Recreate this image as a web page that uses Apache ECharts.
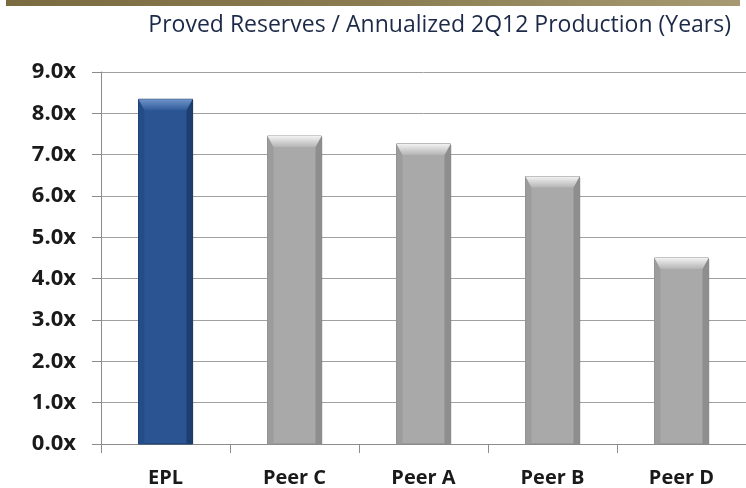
<!DOCTYPE html>
<html><head><meta charset="utf-8">
<script src="https://cdn.jsdelivr.net/npm/echarts@6/dist/echarts.min.js"></script>
<style>html,body{margin:0;padding:0;background:#fff}#c{width:746px;height:488px}</style>
</head><body><div id="c"></div>
<script>
var categories = ["EPL", "Peer C", "Peer A", "Peer B", "Peer D"];
var values = [8.34, 7.45, 7.26, 6.47, 4.50];
var yTicks = [0, 1, 2, 3, 4, 5, 6, 7, 8, 9];
var titleText = "Proved Reserves / Annualized 2Q12 Production (Years)";

var palettes = {
  blue: {body:'#2b5592', top0:'#6f93c8', top1:'#2f5b9a', left:'#244c86', right:'#1d3f70', border:'#1a3a66'},
  gray: {body:'#a9a9a9', top0:'#f2f2f2', top1:'#b4b4b4', left:'#9c9c9c', right:'#8e8e8e', border:'#8a8a8a'}
};

function renderBar(params, api){
  var i = api.value(0), v = api.value(1);
  var top = api.coord([i, v]);
  var base = api.coord([i, 0]);
  var w = 54, b = 11, s = 6;
  var x0 = top[0] - w/2, x1 = top[0] + w/2, y0 = top[1], y1 = base[1];
  var p = i === 0 ? palettes.blue : palettes.gray;
  return {type:'group', children:[
    {type:'rect', shape:{x:x0+1, y:y0+1, width:w, height:y1-y0-1}, style:{fill:'rgba(0,0,0,0.18)'}},
    {type:'rect', shape:{x:x0, y:y0, width:w, height:y1-y0}, style:{fill:p.body, stroke:p.border, lineWidth:1}},
    {type:'polygon', shape:{points:[[x0,y0],[x0+s,y0+b],[x0+s,y1],[x0,y1]]}, style:{fill:p.left}},
    {type:'polygon', shape:{points:[[x1,y0],[x1-s,y0+b],[x1-s,y1],[x1,y1]]}, style:{fill:p.right}},
    {type:'polygon', shape:{points:[[x0,y0],[x1,y0],[x1-s,y0+b],[x0+s,y0+b]]},
      style:{fill:new echarts.graphic.LinearGradient(0,0,0,1,[{offset:0,color:p.top0},{offset:1,color:p.top1}])}}
  ]};
}

var chart = echarts.init(document.getElementById('c'), null, {renderer:'canvas'});
chart.setOption({
  animation:false,
  graphic:[
    {type:'rect', shape:{x:6,y:0,width:734,height:6}, style:{fill:new echarts.graphic.LinearGradient(0,0,1,0,[{offset:0,color:'#7a6c40'},{offset:0.5,color:'#8a7c50'},{offset:1,color:'#a79a72'}])}},
    {type:'text', right:15, top:14, style:{text:titleText, font:'23px "Open Sans"', fill:'#1c2a48'}}
  ],
  grid:{left:101, right:0, top:72, bottom:44},
  xAxis:{
    type:'category', data:categories,
    axisLine:{lineStyle:{color:'#8c8c8c'}},
    axisTick:{show:true, length:9, lineStyle:{color:'#8c8c8c'}},
    axisLabel:{color:'#1a1a1a', fontWeight:'bold', fontSize:20, fontFamily:'Open Sans', margin:24}
  },
  yAxis:{
    type:'value', min:yTicks[0], max:yTicks[yTicks.length-1], interval:1,
    axisLine:{show:true, lineStyle:{color:'#8c8c8c'}},
    axisTick:{show:true, length:9, lineStyle:{color:'#8c8c8c'}},
    splitLine:{lineStyle:{color:'#a0a0a0'}},
    axisLabel:{color:'#1a1a1a', fontWeight:'bold', fontSize:22, fontFamily:'Open Sans', margin:25,
      formatter:function(v){return v.toFixed(1)+'x';}}
  },
  series:[{
    type:'custom', renderItem:renderBar,
    encode:{x:0, y:1},
    data: values.map(function(v,i){return [i, v];})
  }]
});
</script></body></html>
